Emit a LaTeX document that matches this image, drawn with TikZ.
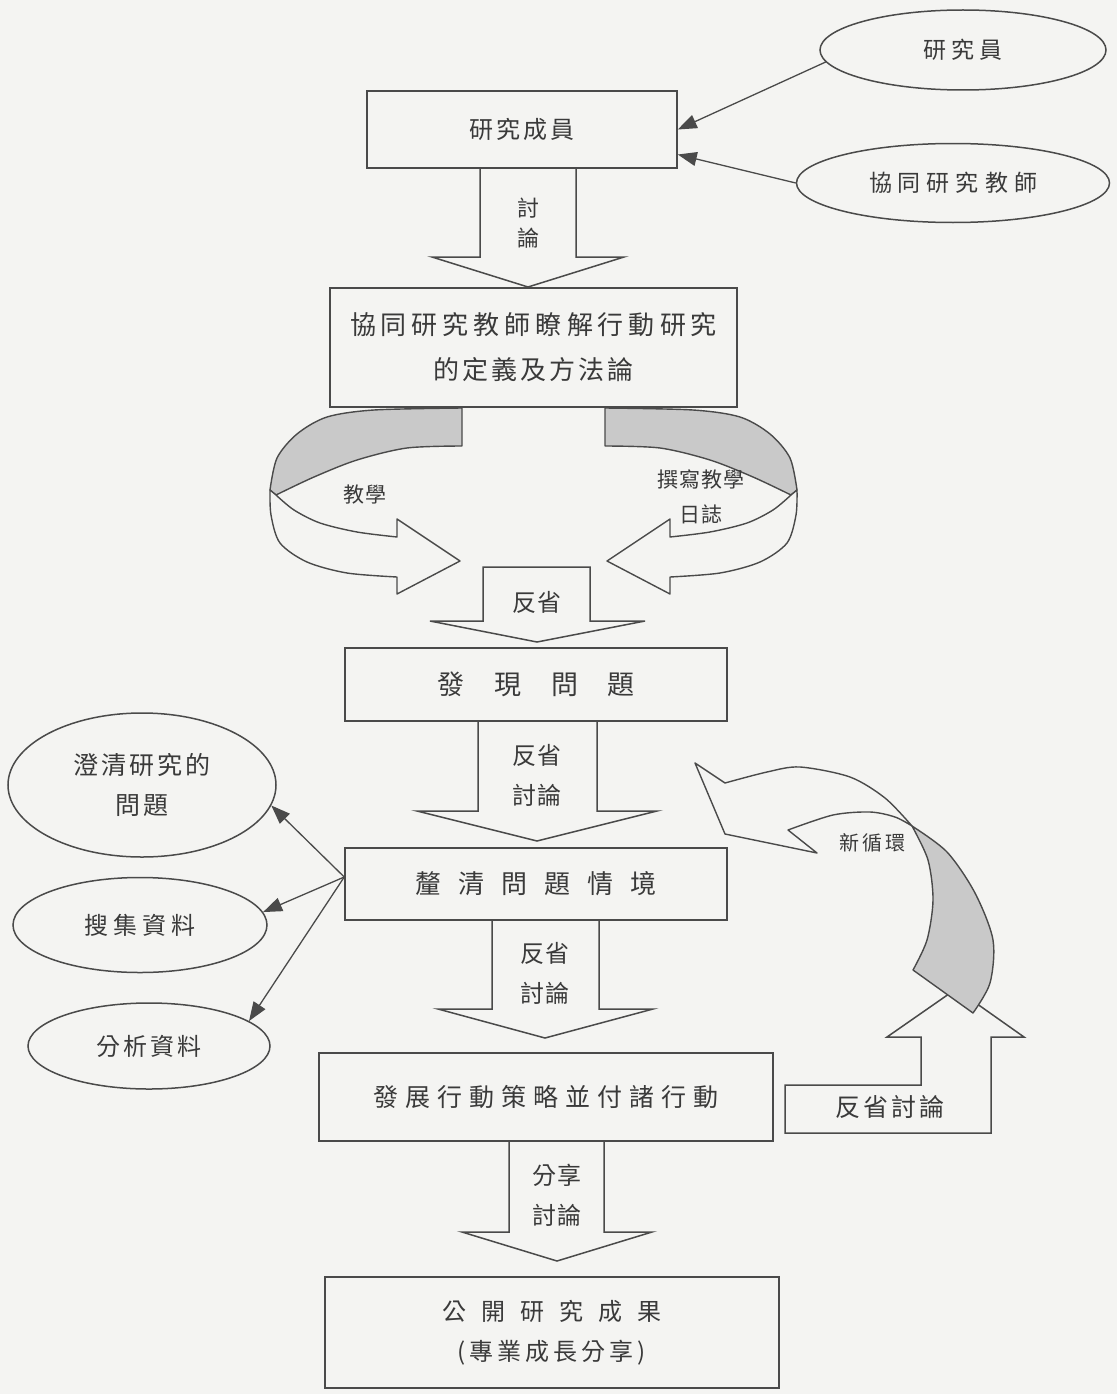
\documentclass[tikz,border=0pt]{standalone}
\usepackage{fontspec}
\setmainfont{Noto Sans CJK TC}
\usetikzlibrary{shapes.geometric,arrows.meta}
\definecolor{ink}{HTML}{4A4A4A}
\definecolor{txt}{HTML}{3A3A3A}
\definecolor{paper}{HTML}{F4F4F2}
\definecolor{shade}{HTML}{C9C9C9}
\newcommand\spaced[2]{\def\sgap{\hspace{#1pt}}\spacedfirst#2\relax}
\def\spacedfirst#1{#1\spacedrest}
\def\spacedrest#1{\ifx\relax#1\else\sgap#1\expandafter\spacedrest\fi}
\begin{document}
\begin{tikzpicture}[x=1pt,y=-1pt,
  boxn/.style={draw=ink, line width=1.5pt, fill=paper, rectangle, inner sep=0pt, text=txt, align=center},
  ell/.style={draw=ink, line width=1.5pt, fill=paper, ellipse, inner sep=0pt, text=txt, align=center},
  barrow/.style={draw=ink, line width=1.5pt, fill=paper, line join=miter},
  band/.style={draw=ink, line width=1.4pt, line join=round},
  thinarr/.style={draw=ink, line width=1.3pt, -{Triangle[length=19pt,width=14pt]}},
  lbl/.style={text=txt, inner sep=0pt, align=center}]
\path[use as bounding box, fill=paper] (0,0) rectangle (1117,1394);

% ---------- top ----------
\node[boxn, minimum width=310pt, minimum height=77pt, font=\fontsize{24}{30}\selectfont] (b1) at (522,129.5) {\spaced{3}{研究成員}};
\node[ell, minimum width=286pt, minimum height=80pt, font=\fontsize{23}{28}\selectfont] (e1) at (963,50) {\spaced{5}{研究員}};
\node[ell, minimum width=313pt, minimum height=79pt, font=\fontsize{23}{28}\selectfont] (e2) at (953,183) {\spaced{6}{協同研究教師}};
\draw[thinarr] (e1.185) -- (b1.east);
\draw[thinarr] (e2.west) -- ([yshift=-25pt]b1.east);

\draw[barrow] (480,168) -- (480,257) -- (432,257) -- (528,287) -- (624,257) -- (576,257) -- (576,168) -- cycle;
\node[lbl, font=\fontsize{22}{30}\selectfont] (t1) at (528,223) {討\\論};

\node[boxn, minimum width=407pt, minimum height=119pt, font=\fontsize{26}{45}\selectfont] (b2) at (533.5,347.5) {\spaced{5}{協同研究教師瞭解行動研究}\\\spaced{3}{的定義及方法論}};

% ---------- teaching loops ----------
\begin{scope}[shift={(1067,0)}, xscale=-1]
\filldraw[band, fill=shade] plot[smooth] coordinates {(605,408) (693,410) (740,417) (770,434) (790,458) (797,490)} -- (791,495)
  -- plot[smooth] coordinates {(791,495) (753,477) (710,460) (660,448) (605,446)} -- cycle;
\filldraw[band, fill=paper] plot[smooth] coordinates {(797,490) (796,515) (787,543) (760,562) (720,573) (670,577)}
  -- (670,594) -- (607,561) -- (670,519) -- (670,537)
  -- plot[smooth] coordinates {(670,537) (710,532) (747,523) (773,510) (791,495)} -- cycle;
\end{scope}
\filldraw[band, fill=shade] plot[smooth] coordinates {(605,408) (693,410) (740,417) (770,434) (790,458) (797,490)} -- (791,495)
  -- plot[smooth] coordinates {(791,495) (753,477) (710,460) (660,448) (605,446)} -- cycle;
\filldraw[band, fill=paper] plot[smooth] coordinates {(797,490) (796,515) (787,543) (760,562) (720,573) (670,577)}
  -- (670,594) -- (607,561) -- (670,519) -- (670,537)
  -- plot[smooth] coordinates {(670,537) (710,532) (747,523) (773,510) (791,495)} -- cycle;
\node[lbl, font=\fontsize{21}{26}\selectfont] (teach) at (365,495) {\spaced{1}{教學}};
\node[lbl, font=\fontsize{21}{35}\selectfont] (diary) at (701,497) {\spaced{1}{撰寫教學}\\\spaced{1}{日誌}};

\draw[barrow] (483,567) -- (483,621) -- (430,621) -- (537,642) -- (645,621) -- (590,621) -- (590,567) -- cycle;
\node[lbl, font=\fontsize{24}{30}\selectfont] (t2) at (537,602) {\spaced{2}{反省}};

\node[boxn, minimum width=382pt, minimum height=73pt, font=\fontsize{27}{30}\selectfont] (b3) at (536,684.5) {\spaced{30}{發現問題}};

\draw[barrow] (478,721) -- (478,811) -- (417,811) -- (537,841) -- (657,811) -- (597,811) -- (597,721) -- cycle;
\node[lbl, font=\fontsize{24}{40}\selectfont] (t3) at (537,775) {\spaced{1}{反省}\\\spaced{1}{討論}};

\node[boxn, minimum width=382pt, minimum height=72pt, font=\fontsize{26}{30}\selectfont] (b4) at (536,884) {\spaced{17}{釐清問題情境}};

% ---------- left ellipses ----------
\node[ell, minimum width=268pt, minimum height=144pt, font=\fontsize{25}{40}\selectfont] (L1) at (142,785) {\spaced{3}{澄清研究的}\\\spaced{3}{問題}};
\node[ell, minimum width=254pt, minimum height=95pt, font=\fontsize{24}{28}\selectfont] (L2) at (140,925) {\spaced{5}{搜集資料}};
\node[ell, minimum width=242pt, minimum height=86pt, font=\fontsize{24}{28}\selectfont] (L3) at (149,1046) {\spaced{3}{分析資料}};
\coordinate (src) at ([yshift=7pt]b4.west);
\draw[thinarr] (src) -- (L1.-9);
\draw[thinarr] (src) -- (L2.6);
\draw[thinarr] (src) -- (L3.14);

\draw[barrow] (492,920) -- (492,1009) -- (438,1009) -- (545,1038) -- (653,1009) -- (599,1009) -- (599,920) -- cycle;
\node[lbl, font=\fontsize{24}{40}\selectfont] (t4) at (545,973) {\spaced{1}{反省}\\\spaced{1}{討論}};

\node[boxn, minimum width=454pt, minimum height=88pt, font=\fontsize{25}{30}\selectfont] (b5) at (546,1097) {\spaced{7}{發展行動策略並付諸行動}};

\draw[barrow] (509,1141) -- (509,1232) -- (462,1232) -- (557,1261) -- (652,1232) -- (604,1232) -- (604,1141) -- cycle;
\node[lbl, font=\fontsize{24}{40}\selectfont] (t5) at (557,1195) {\spaced{1}{分享}\\\spaced{1}{討論}};

\node[boxn, minimum width=454pt, minimum height=111pt, font=\fontsize{24}{40}\selectfont] (b6) at (552,1332.5) {\spaced{15}{公開研究成果}\\\spaced{4}{(專業成長分享)}};

% ---------- new cycle ----------
\draw[barrow] (785,1133) -- (785,1085) -- (921,1085) -- (921,1037) -- (887,1037) -- (956,989) -- (1024,1037) -- (991,1037) -- (991,1133) -- cycle;
\node[lbl, font=\fontsize{25}{30}\selectfont] (rd) at (890,1107) {\spaced{3}{反省討論}};

\filldraw[band, fill=paper] plot[smooth] coordinates {(725,783) (767,772) (800,767) (850,777) (885,798) (912,826)}
  -- plot[smooth] coordinates {(912,826) (895,817) (870,812) (833,815) (788,830)}
  -- (817,853) -- (725,834) -- (695,763) -- cycle;
\filldraw[band, fill=shade] plot[smooth] coordinates {(912,826) (947,852) (975,893) (993,940) (990,983) (973,1013)}
  -- (913,970) -- plot[smooth] coordinates {(913,970) (927,940) (933,900) (928,860) (912,826)} -- cycle;
\node[lbl, font=\fontsize{20}{24}\selectfont] (nc) at (872,843) {\spaced{3}{新循環}};
\end{tikzpicture}
\end{document}
